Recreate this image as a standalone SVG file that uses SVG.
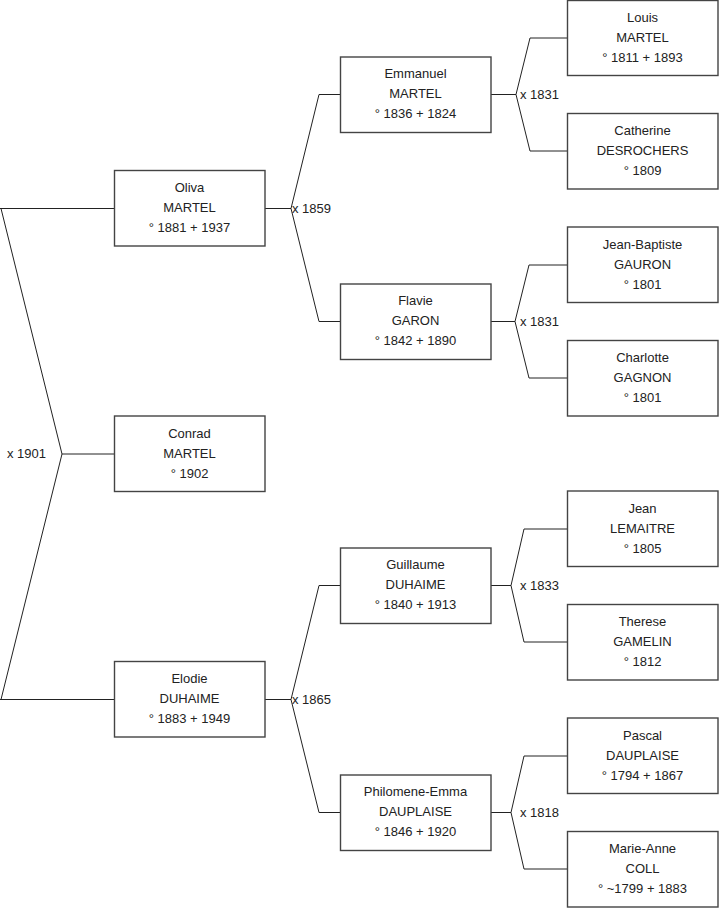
<svg xmlns="http://www.w3.org/2000/svg" width="719" height="908" viewBox="0 0 719 908">
<style>
.box{fill:#fff;stroke:#444;stroke-width:1.4}
.t{font-family:"Liberation Sans",Arial,sans-serif;font-size:13px;fill:#222;text-anchor:middle}
.lbl{font-family:"Liberation Sans",Arial,sans-serif;font-size:13px;fill:#222}
.ln{fill:none;stroke:#222;stroke-width:1}
</style>
<rect width="719" height="908" fill="#fff"/>
<g id="connectors">
<polyline class="ln" points="0,208.5 114,208.5"/>
<polyline class="ln" points="0,699.5 114,699.5"/>
<polyline class="ln" points="1,208.5 62,454 1,699.5"/>
<polyline class="ln" points="62,454 114,454"/>
<polyline class="ln" points="265,208.5 291,208.5"/>
<polyline class="ln" points="340,94.5 319,94.5 291,208.5 319,321.5 340,321.5"/>
<polyline class="ln" points="265,699.5 291,699.5"/>
<polyline class="ln" points="340,585.5 319,585.5 291,699.5 319,812.5 340,812.5"/>
<polyline class="ln" points="491,94.5 516,94.5"/>
<polyline class="ln" points="567,38 530,38 516,94.5 530,151 567,151"/>
<polyline class="ln" points="491,321.5 515,321.5"/>
<polyline class="ln" points="567,265 529,265 515,321.5 529,378 567,378"/>
<polyline class="ln" points="491,585.5 511,585.5"/>
<polyline class="ln" points="567,529 524,529 511,585.5 524,642 567,642"/>
<polyline class="ln" points="491,812.5 511,812.5"/>
<polyline class="ln" points="567,756 524,756 511,812.5 524,869 567,869"/>
<text class="lbl" x="7" y="458">x 1901</text>
<text class="lbl" x="292" y="212.5">x 1859</text>
<text class="lbl" x="292" y="703.5">x 1865</text>
<text class="lbl" x="520" y="98.5">x 1831</text>
<text class="lbl" x="520" y="325.5">x 1831</text>
<text class="lbl" x="520" y="589.5">x 1833</text>
<text class="lbl" x="520" y="816.5">x 1818</text>
</g>
<g id="oliva"><rect class="box" x="114.5" y="170.5" width="150.5" height="75.5"/>
<text class="t" x="189.5" y="192">Oliva</text><text class="t" x="189.5" y="212">MARTEL</text><text class="t" x="189.5" y="232">° 1881 + 1937</text></g>
<g id="conrad"><rect class="box" x="114.5" y="416" width="150.5" height="75.5"/>
<text class="t" x="189.5" y="437.5">Conrad</text><text class="t" x="189.5" y="457.5">MARTEL</text><text class="t" x="189.5" y="477.5">° 1902</text></g>
<g id="elodie"><rect class="box" x="114.5" y="661.5" width="150.5" height="75.5"/>
<text class="t" x="189.5" y="683">Elodie</text><text class="t" x="189.5" y="703">DUHAIME</text><text class="t" x="189.5" y="723">° 1883 + 1949</text></g>
<g id="emmanuel"><rect class="box" x="340.5" y="57" width="150.5" height="75.5"/>
<text class="t" x="415.5" y="78">Emmanuel</text><text class="t" x="415.5" y="98">MARTEL</text><text class="t" x="415.5" y="118">° 1836 + 1824</text></g>
<g id="flavie"><rect class="box" x="340.5" y="284" width="150.5" height="75.5"/>
<text class="t" x="415.5" y="305">Flavie</text><text class="t" x="415.5" y="325">GARON</text><text class="t" x="415.5" y="345">° 1842 + 1890</text></g>
<g id="guillaume"><rect class="box" x="340.5" y="548" width="150.5" height="75.5"/>
<text class="t" x="415.5" y="569">Guillaume</text><text class="t" x="415.5" y="589">DUHAIME</text><text class="t" x="415.5" y="609">° 1840 + 1913</text></g>
<g id="philomene"><rect class="box" x="340.5" y="775" width="150.5" height="75.5"/>
<text class="t" x="415.5" y="796">Philomene-Emma</text><text class="t" x="415.5" y="816">DAUPLAISE</text><text class="t" x="415.5" y="836">° 1846 + 1920</text></g>
<g id="louis"><rect class="box" x="567.5" y="0.5" width="150.5" height="75"/>
<text class="t" x="642.5" y="21.5">Louis</text><text class="t" x="642.5" y="41.5">MARTEL</text><text class="t" x="642.5" y="61.5">° 1811 + 1893</text></g>
<g id="catherine"><rect class="box" x="567.5" y="113.5" width="150.5" height="75.5"/>
<text class="t" x="642.5" y="134.5">Catherine</text><text class="t" x="642.5" y="154.5">DESROCHERS</text><text class="t" x="642.5" y="174.5">° 1809</text></g>
<g id="jeanbaptiste"><rect class="box" x="567.5" y="227" width="150.5" height="75.5"/>
<text class="t" x="642.5" y="248.5">Jean-Baptiste</text><text class="t" x="642.5" y="268.5">GAURON</text><text class="t" x="642.5" y="288.5">° 1801</text></g>
<g id="charlotte"><rect class="box" x="567.5" y="340.5" width="150.5" height="75.5"/>
<text class="t" x="642.5" y="361.5">Charlotte</text><text class="t" x="642.5" y="381.5">GAGNON</text><text class="t" x="642.5" y="401.5">° 1801</text></g>
<g id="jean"><rect class="box" x="567.5" y="491" width="150.5" height="75.5"/>
<text class="t" x="642.5" y="512.5">Jean</text><text class="t" x="642.5" y="532.5">LEMAITRE</text><text class="t" x="642.5" y="552.5">° 1805</text></g>
<g id="therese"><rect class="box" x="567.5" y="604.5" width="150.5" height="75.5"/>
<text class="t" x="642.5" y="625.5">Therese</text><text class="t" x="642.5" y="645.5">GAMELIN</text><text class="t" x="642.5" y="665.5">° 1812</text></g>
<g id="pascal"><rect class="box" x="567.5" y="718" width="150.5" height="75.5"/>
<text class="t" x="642.5" y="739.5">Pascal</text><text class="t" x="642.5" y="759.5">DAUPLAISE</text><text class="t" x="642.5" y="779.5">° 1794 + 1867</text></g>
<g id="marieanne"><rect class="box" x="567.5" y="831.5" width="150.5" height="75.5"/>
<text class="t" x="642.5" y="852.5">Marie-Anne</text><text class="t" x="642.5" y="872.5">COLL</text><text class="t" x="642.5" y="892.5">° ~1799 + 1883</text></g>
</svg>
